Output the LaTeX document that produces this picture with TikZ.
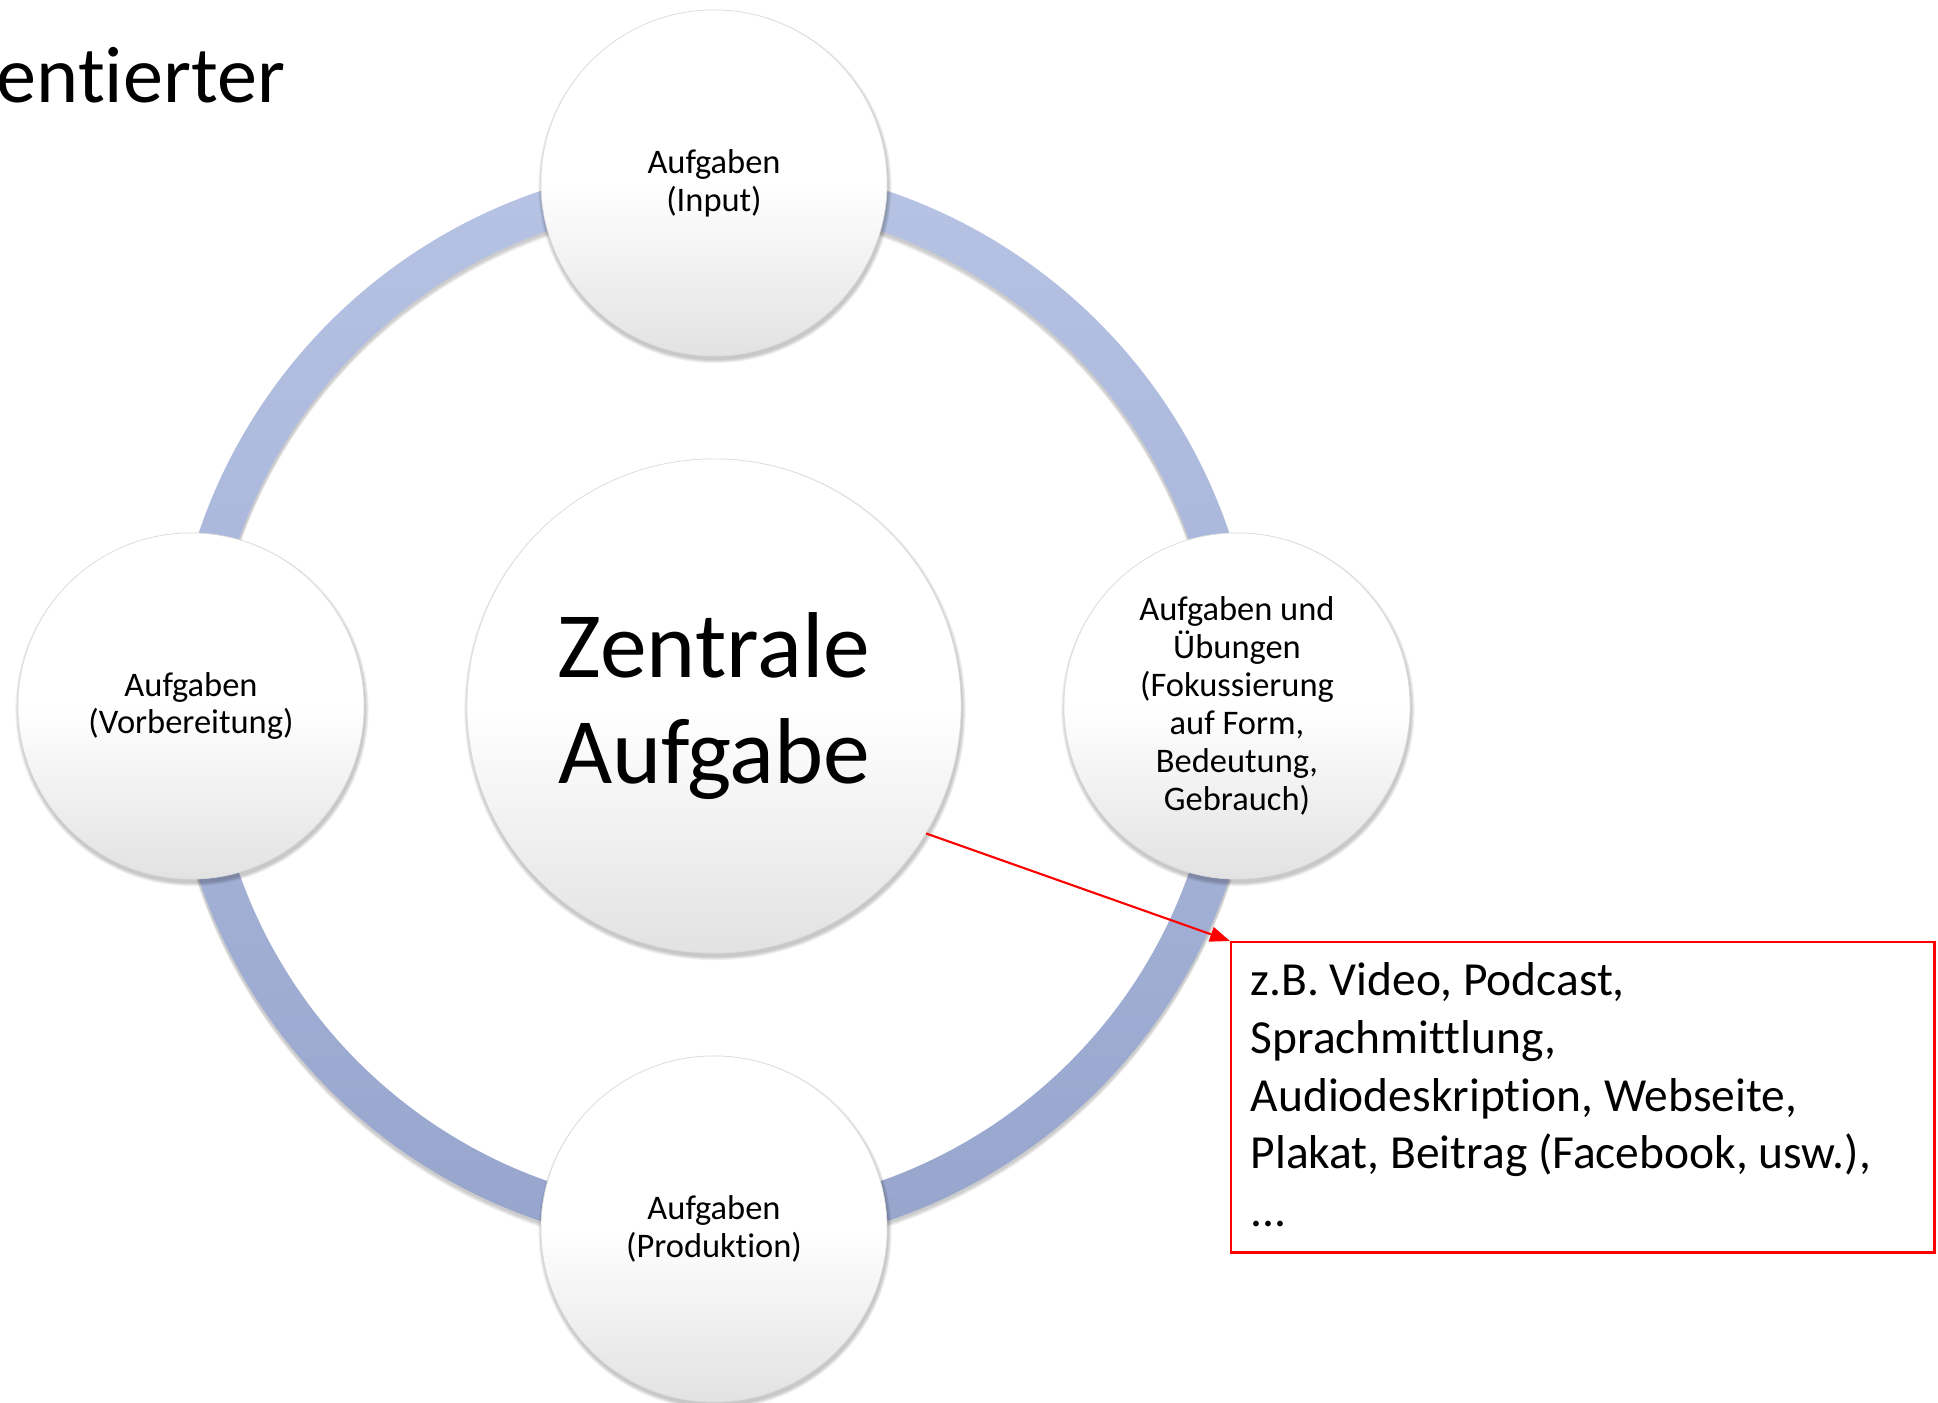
\documentclass[tikz,border=0pt]{standalone}
\usepackage{fontspec}
\setmainfont{Carlito}[RawFeature=-liga, RawFeature=-clig, RawFeature=-calt, RawFeature=-dlig]
\usetikzlibrary{arrows.meta}

\definecolor{ringtop}{HTML}{B6C3E4}
\definecolor{ringbot}{HTML}{97A5CD}
\definecolor{ballbot}{HTML}{E2E2E2}
\definecolor{ballrim}{HTML}{DADADA}
\definecolor{callout}{HTML}{FF0000}

\tikzset{
  ball/.style={circle, inner sep=0pt, minimum size=#1, align=center,
    top color=white, bottom color=ballbot, middle color=white,
    draw=ballrim, line width=0.2pt},
  smalltext/.style={font=\fontsize{9.8}{10.8}\selectfont},
  bigtext/.style={font=\fontsize{26.6}{30}\selectfont},
  notetext/.style={font=\fontsize{13.5}{16.4}\selectfont, align=left,
    inner sep=0pt, anchor=north west},
  notebox/.style={draw=callout, line width=0.7pt, inner sep=0pt,
    minimum width=7.03cm, minimum height=3.10cm, anchor=north west},
  pointer/.style={draw=callout, line width=0.6pt,
    -{Triangle[length=2.0mm, width=1.5mm]}},
}

\begin{document}
\begin{tikzpicture}[x=0.01cm, y=-0.01cm]
  \useasboundingbox (0,0) rectangle (1938,1403);

  % heading fragment at the upper left
  \node[anchor=base west, inner sep=0pt, font=\fontsize{22.8}{26}\selectfont]
    (title) at (-4,102) {entierter};

  % cycle ring behind the task circles, with a soft shadow
  \coordinate (C) at (714,706);
  \foreach \d in {2,3.5,5}{
    \fill[black, opacity=0.07, even odd rule]
      (714,706+\d) circle[radius=5.44cm] (714,706+\d) circle[radius=5.02cm];
  }
  \path[top color=ringtop, bottom color=ringbot, even odd rule]
    (C) circle[radius=5.43cm] (C) circle[radius=5.03cm];

  % soft drop shadows under the circles
  \foreach \cx/\cy/\r in {714/183/1.73, 191/706/1.73, 1237/706/1.73,
                          714/1229/1.73, 714/706/2.47}{
    \foreach \d in {0.005,0.015,0.025,0.035}{
      \fill[black, opacity=0.06] (\cx+1,\cy+3.5) circle[radius=\r cm+\d cm];
    }
  }

  % task circles
  \node[ball=3.46cm, smalltext] (top)    at (714,183)  {Aufgaben\\(Input)};
  \node[ball=3.46cm, smalltext] (left)   at (191,706)  {Aufgaben\\(Vorbereitung)};
  \node[ball=3.46cm, smalltext] (right)  at (1237,706) {Aufgaben und\\Übungen\\(Fokussierung\\auf Form,\\Bedeutung,\\Gebrauch)};
  \node[ball=3.46cm, smalltext] (bottom) at (714,1229) {Aufgaben\\(Produktion)};
  \node[ball=4.94cm, bigtext]   (core)   at (C)        {Zentrale\\Aufgabe};

  % callout with examples
  \node[notebox] (box) at (1230,941) {};
  \node[notetext] (boxtext) at (1250,962)
    {z.B. Video, Podcast,\\Sprachmittlung,\\Audiodeskription, Webseite,\\Plakat, Beitrag (Facebook, usw.),\\...};

  \draw[pointer] (core.-31) -- (box.north west);
\end{tikzpicture}
\end{document}
